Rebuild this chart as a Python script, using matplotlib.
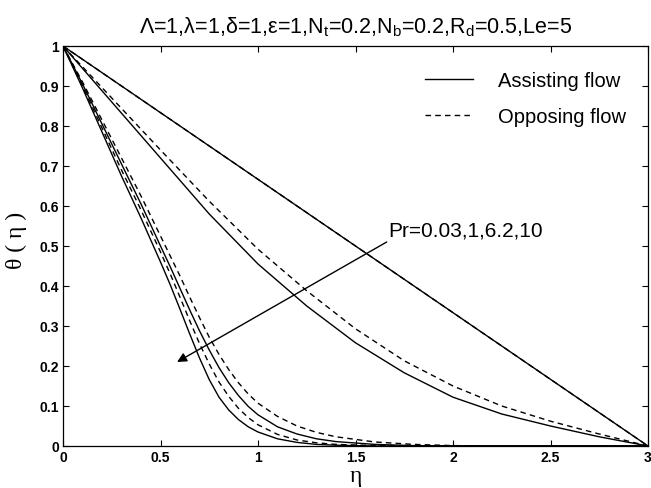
import matplotlib
matplotlib.use('Agg')
import matplotlib.pyplot as plt

plt.rcParams['font.family'] = ['Liberation Sans', 'DejaVu Sans']
plt.rcParams['mathtext.fontset'] = 'custom'
plt.rcParams['mathtext.rm'] = 'Liberation Sans'

# Pr = 0.03 (almost linear, both flows coincide)
eta_lin = [0, 3]
pr003_assist = [1, 0]
pr003_oppose = [1, 0]

# Pr = 1
eta_pr1 = [0, 0.25, 0.5, 0.75, 1.0, 1.25, 1.5, 1.75, 2.0, 2.25, 2.5, 2.75, 3.0]
pr1_assist = [1, 0.86, 0.72, 0.58, 0.455, 0.35, 0.258, 0.183, 0.122, 0.08, 0.05, 0.023, 0]
pr1_oppose = [1, 0.87, 0.74, 0.612, 0.492, 0.388, 0.293, 0.213, 0.15, 0.1, 0.062, 0.03, 0]

# Pr = 6.2 and 10
eta_hi = [0, 0.1, 0.2, 0.3, 0.4, 0.5, 0.55, 0.6, 0.65, 0.7, 0.75, 0.8, 0.85, 0.9,
          0.95, 1.0, 1.1, 1.2, 1.3, 1.4, 1.6, 1.8, 2.0, 2.2, 3.0]
pr62_assist = [1, 0.905, 0.805, 0.705, 0.605, 0.5, 0.448, 0.394, 0.34, 0.288, 0.24,
               0.196, 0.158, 0.126, 0.099, 0.078, 0.048, 0.03, 0.018, 0.011, 0.004,
               0.001, 0, 0, 0]
pr62_oppose = [1, 0.91, 0.815, 0.72, 0.625, 0.525, 0.475, 0.425, 0.372, 0.321, 0.272,
               0.229, 0.191, 0.158, 0.13, 0.107, 0.074, 0.05, 0.034, 0.023, 0.01,
               0.004, 0.001, 0, 0]
pr10_assist = [1, 0.895, 0.785, 0.675, 0.57, 0.46, 0.403, 0.342, 0.28, 0.22, 0.166,
               0.122, 0.09, 0.066, 0.048, 0.035, 0.018, 0.009, 0.004, 0.002, 0,
               0, 0, 0, 0]
pr10_oppose = [1, 0.9, 0.795, 0.69, 0.59, 0.485, 0.43, 0.372, 0.313, 0.256, 0.205,
               0.16, 0.124, 0.094, 0.071, 0.053, 0.029, 0.015, 0.008, 0.004, 0.001,
               0, 0, 0, 0]

xticks = [0, 0.5, 1, 1.5, 2, 2.5, 3]
xticklabels = ['0', '0.5', '1', '1.5', '2', '2.5', '3']
yticks = [0, 0.1, 0.2, 0.3, 0.4, 0.5, 0.6, 0.7, 0.8, 0.9, 1]
yticklabels = ['0', '0.1', '0.2', '0.3', '0.4', '0.5', '0.6', '0.7', '0.8', '0.9', '1']

title = ('Λ=1,λ=1,δ=1,ε=1,N$_\\mathrm{t}$=0.2,N$_\\mathrm{b}$=0.2,'
         'R$_\\mathrm{d}$=0.5,Le=5')

fig = plt.figure(figsize=(6.51, 4.89), dpi=100)
ax = fig.add_axes([63 / 651, 1 - 447 / 489, 585 / 651, 400 / 489])

lw = 1.0
dash = (4, 3)
solid_sets = [(eta_lin, pr003_assist), (eta_pr1, pr1_assist),
              (eta_hi, pr62_assist), (eta_hi, pr10_assist)]
dash_sets = [(eta_lin, pr003_oppose), (eta_pr1, pr1_oppose),
             (eta_hi, pr62_oppose), (eta_hi, pr10_oppose)]
for i, (x, y) in enumerate(solid_sets):
    ax.plot(x, y, color='black', lw=lw, label='Assisting flow' if i == 0 else None)
for i, (x, y) in enumerate(dash_sets):
    ax.plot(x, y, color='black', lw=lw, dashes=dash,
            label='Opposing flow' if i == 0 else None)

ax.set_xlim(0, 3)
ax.set_ylim(0, 1)
ax.set_xticks(xticks)
ax.set_xticklabels(xticklabels)
ax.set_yticks(yticks)
ax.set_yticklabels(yticklabels)
ax.tick_params(direction='in', top=True, right=True, length=4, width=0.8,
               labelsize=10, pad=3)
for lab in ax.get_xticklabels() + ax.get_yticklabels():
    lab.set_fontweight('bold')
for s in ax.spines.values():
    s.set_linewidth(0.9)

leg = ax.legend(loc='upper left', bbox_to_anchor=(0.619, 0.937), frameon=False,
                fontsize=14.5, handlelength=2.4, handletextpad=1.2,
                labelspacing=0.85, borderpad=0, borderaxespad=0)

ax.annotate('', xy=(0.585, 0.21), xytext=(1.66, 0.51),
            arrowprops=dict(arrowstyle='-|>', color='black', lw=1,
                            mutation_scale=14, shrinkA=0, shrinkB=0))
ax.text(1.67, 0.54, 'Pr=0.03,1,6.2,10', fontsize=15, va='center', ha='left')

fig.text(355.5 / 651, 1 - 27 / 489, title, fontsize=15.5, ha='center', va='center')
fig.text(355.5 / 651, 1 - 477 / 489, 'η', fontsize=17, ha='center', va='center',
         family=['Liberation Serif', 'DejaVu Serif'])
fig.text(16 / 651, 1 - 240 / 489, 'θ ( η )', fontsize=17, ha='center', va='center',
         rotation=90, family=['Liberation Serif', 'DejaVu Serif'])

fig.savefig('out.png', dpi=100)
